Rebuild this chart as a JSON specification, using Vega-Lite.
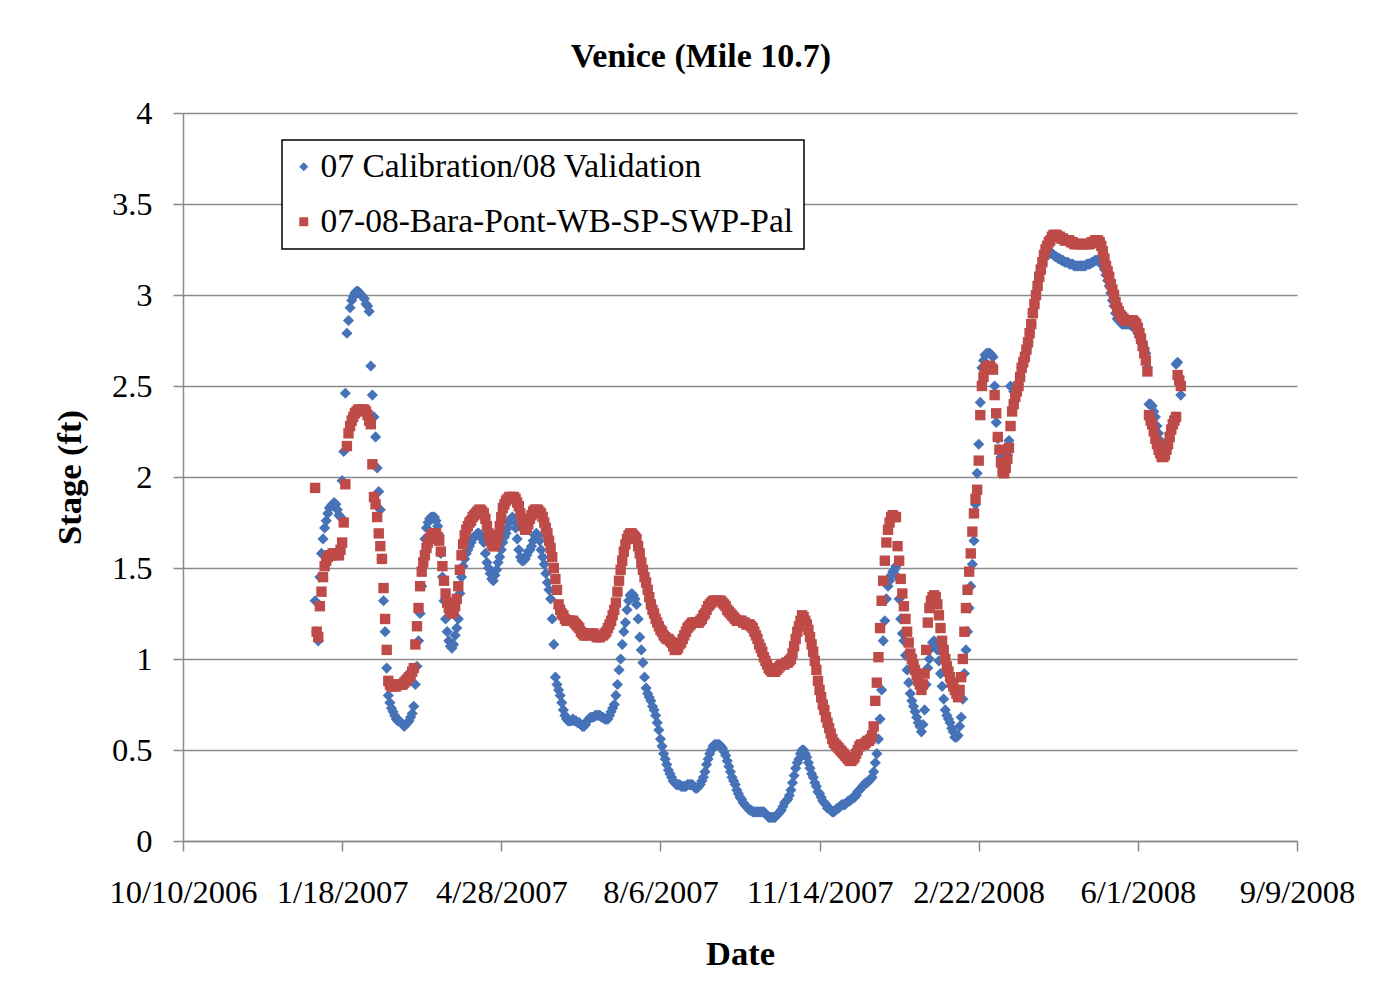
{
  "$schema": "https://vega.github.io/schema/vega-lite/v6.json",
  "width": 1114,
  "height": 728,
  "autosize": {"type": "none"},
  "padding": {"left": 183, "top": 113, "right": 89, "bottom": 163},
  "background": "white",
  "title": {
    "text": "Venice (Mile 10.7)",
    "font": "Liberation Serif",
    "fontSize": 34,
    "fontWeight": "bold",
    "color": "#000000",
    "anchor": "middle",
    "frame": "group",
    "dx": -39,
    "offset": 23
  },
  "data": {
    "values": [
      {"d":"2007-01-01","a":1.32,"b":1.94},
      {"d":"2007-01-02","a":1.15,"b":1.15},
      {"d":"2007-01-03","a":1.10,"b":1.12},
      {"d":"2007-01-04","a":1.45,"b":1.29},
      {"d":"2007-01-05","a":1.58,"b":1.37},
      {"d":"2007-01-06","a":1.66,"b":1.45},
      {"d":"2007-01-07","a":1.72,"b":1.51},
      {"d":"2007-01-08","a":1.76,"b":1.54},
      {"d":"2007-01-09","a":1.80,"b":1.56},
      {"d":"2007-01-10","a":1.83,"b":1.57},
      {"d":"2007-01-11","a":1.84,"b":1.57},
      {"d":"2007-01-12","a":1.85,"b":1.58},
      {"d":"2007-01-13","a":1.86,"b":1.58},
      {"d":"2007-01-14","a":1.85,"b":1.58},
      {"d":"2007-01-15","a":1.82,"b":1.57},
      {"d":"2007-01-16","a":1.79,"b":1.57},
      {"d":"2007-01-17","a":1.78,"b":1.60},
      {"d":"2007-01-18","a":1.98,"b":1.64},
      {"d":"2007-01-19","a":2.14,"b":1.75},
      {"d":"2007-01-20","a":2.46,"b":1.96},
      {"d":"2007-01-21","a":2.79,"b":2.17},
      {"d":"2007-01-22","a":2.86,"b":2.24},
      {"d":"2007-01-23","a":2.93,"b":2.28},
      {"d":"2007-01-24","a":2.97,"b":2.31},
      {"d":"2007-01-25","a":2.99,"b":2.33},
      {"d":"2007-01-26","a":3.01,"b":2.35},
      {"d":"2007-01-27","a":3.02,"b":2.36},
      {"d":"2007-01-28","a":3.02,"b":2.37},
      {"d":"2007-01-29","a":3.01,"b":2.37},
      {"d":"2007-01-30","a":3.00,"b":2.37},
      {"d":"2007-01-31","a":2.99,"b":2.37},
      {"d":"2007-02-01","a":2.98,"b":2.37},
      {"d":"2007-02-02","a":2.95,"b":2.36},
      {"d":"2007-02-03","a":2.94,"b":2.34},
      {"d":"2007-02-04","a":2.91,"b":2.31},
      {"d":"2007-02-05","a":2.61,"b":2.29},
      {"d":"2007-02-06","a":2.45,"b":2.07},
      {"d":"2007-02-07","a":2.33,"b":1.89},
      {"d":"2007-02-08","a":2.22,"b":1.85},
      {"d":"2007-02-09","a":2.05,"b":1.78},
      {"d":"2007-02-10","a":1.92,"b":1.69},
      {"d":"2007-02-11","a":1.82,"b":1.62},
      {"d":"2007-02-12","a":1.55,"b":1.55},
      {"d":"2007-02-13","a":1.32,"b":1.39},
      {"d":"2007-02-14","a":1.15,"b":1.22},
      {"d":"2007-02-15","a":0.95,"b":1.05},
      {"d":"2007-02-16","a":0.80,"b":0.88},
      {"d":"2007-02-17","a":0.76,"b":0.86},
      {"d":"2007-02-18","a":0.73,"b":0.85},
      {"d":"2007-02-19","a":0.71,"b":0.85},
      {"d":"2007-02-20","a":0.69,"b":0.85},
      {"d":"2007-02-21","a":0.67,"b":0.85},
      {"d":"2007-02-22","a":0.66,"b":0.86},
      {"d":"2007-02-23","a":0.66,"b":0.86},
      {"d":"2007-02-24","a":0.65,"b":0.86},
      {"d":"2007-02-25","a":0.64,"b":0.86},
      {"d":"2007-02-26","a":0.63,"b":0.87},
      {"d":"2007-02-27","a":0.64,"b":0.88},
      {"d":"2007-02-28","a":0.65,"b":0.89},
      {"d":"2007-03-01","a":0.66,"b":0.90},
      {"d":"2007-03-02","a":0.68,"b":0.91},
      {"d":"2007-03-03","a":0.70,"b":0.93},
      {"d":"2007-03-04","a":0.74,"b":0.95},
      {"d":"2007-03-05","a":0.86,"b":1.08},
      {"d":"2007-03-06","a":0.96,"b":1.18},
      {"d":"2007-03-07","a":1.10,"b":1.28},
      {"d":"2007-03-08","a":1.25,"b":1.40},
      {"d":"2007-03-09","a":1.40,"b":1.48},
      {"d":"2007-03-10","a":1.55,"b":1.53},
      {"d":"2007-03-11","a":1.66,"b":1.57},
      {"d":"2007-03-12","a":1.72,"b":1.61},
      {"d":"2007-03-13","a":1.75,"b":1.64},
      {"d":"2007-03-14","a":1.77,"b":1.66},
      {"d":"2007-03-15","a":1.78,"b":1.68},
      {"d":"2007-03-16","a":1.78,"b":1.69},
      {"d":"2007-03-17","a":1.78,"b":1.69},
      {"d":"2007-03-18","a":1.76,"b":1.69},
      {"d":"2007-03-19","a":1.73,"b":1.67},
      {"d":"2007-03-20","a":1.68,"b":1.65},
      {"d":"2007-03-21","a":1.58,"b":1.59},
      {"d":"2007-03-22","a":1.45,"b":1.51},
      {"d":"2007-03-23","a":1.32,"b":1.43},
      {"d":"2007-03-24","a":1.22,"b":1.36},
      {"d":"2007-03-25","a":1.15,"b":1.31},
      {"d":"2007-03-26","a":1.10,"b":1.28},
      {"d":"2007-03-27","a":1.07,"b":1.26},
      {"d":"2007-03-28","a":1.06,"b":1.25},
      {"d":"2007-03-29","a":1.08,"b":1.26},
      {"d":"2007-03-30","a":1.13,"b":1.29},
      {"d":"2007-03-31","a":1.17,"b":1.33},
      {"d":"2007-04-01","a":1.22,"b":1.40},
      {"d":"2007-04-02","a":1.36,"b":1.49},
      {"d":"2007-04-03","a":1.45,"b":1.57},
      {"d":"2007-04-04","a":1.51,"b":1.63},
      {"d":"2007-04-05","a":1.55,"b":1.68},
      {"d":"2007-04-06","a":1.58,"b":1.71},
      {"d":"2007-04-07","a":1.60,"b":1.73},
      {"d":"2007-04-08","a":1.62,"b":1.75},
      {"d":"2007-04-09","a":1.64,"b":1.76},
      {"d":"2007-04-10","a":1.66,"b":1.78},
      {"d":"2007-04-11","a":1.67,"b":1.79},
      {"d":"2007-04-12","a":1.68,"b":1.80},
      {"d":"2007-04-13","a":1.69,"b":1.81},
      {"d":"2007-04-14","a":1.69,"b":1.82},
      {"d":"2007-04-15","a":1.68,"b":1.82},
      {"d":"2007-04-16","a":1.66,"b":1.81},
      {"d":"2007-04-17","a":1.64,"b":1.80},
      {"d":"2007-04-18","a":1.58,"b":1.77},
      {"d":"2007-04-19","a":1.53,"b":1.73},
      {"d":"2007-04-20","a":1.50,"b":1.69},
      {"d":"2007-04-21","a":1.47,"b":1.65},
      {"d":"2007-04-22","a":1.44,"b":1.63},
      {"d":"2007-04-23","a":1.43,"b":1.62},
      {"d":"2007-04-24","a":1.46,"b":1.62},
      {"d":"2007-04-25","a":1.49,"b":1.64},
      {"d":"2007-04-26","a":1.53,"b":1.68},
      {"d":"2007-04-27","a":1.56,"b":1.73},
      {"d":"2007-04-28","a":1.60,"b":1.78},
      {"d":"2007-04-29","a":1.64,"b":1.83},
      {"d":"2007-04-30","a":1.67,"b":1.85},
      {"d":"2007-05-01","a":1.69,"b":1.87},
      {"d":"2007-05-02","a":1.72,"b":1.88},
      {"d":"2007-05-03","a":1.75,"b":1.89},
      {"d":"2007-05-04","a":1.77,"b":1.89},
      {"d":"2007-05-05","a":1.78,"b":1.89},
      {"d":"2007-05-06","a":1.76,"b":1.89},
      {"d":"2007-05-07","a":1.72,"b":1.88},
      {"d":"2007-05-08","a":1.66,"b":1.86},
      {"d":"2007-05-09","a":1.60,"b":1.84},
      {"d":"2007-05-10","a":1.56,"b":1.80},
      {"d":"2007-05-11","a":1.54,"b":1.76},
      {"d":"2007-05-12","a":1.54,"b":1.73},
      {"d":"2007-05-13","a":1.55,"b":1.71},
      {"d":"2007-05-14","a":1.57,"b":1.72},
      {"d":"2007-05-15","a":1.59,"b":1.74},
      {"d":"2007-05-16","a":1.60,"b":1.77},
      {"d":"2007-05-17","a":1.62,"b":1.79},
      {"d":"2007-05-18","a":1.65,"b":1.81},
      {"d":"2007-05-19","a":1.68,"b":1.82},
      {"d":"2007-05-20","a":1.69,"b":1.82},
      {"d":"2007-05-21","a":1.68,"b":1.82},
      {"d":"2007-05-22","a":1.65,"b":1.81},
      {"d":"2007-05-23","a":1.60,"b":1.80},
      {"d":"2007-05-24","a":1.56,"b":1.78},
      {"d":"2007-05-25","a":1.52,"b":1.75},
      {"d":"2007-05-26","a":1.47,"b":1.72},
      {"d":"2007-05-27","a":1.42,"b":1.69},
      {"d":"2007-05-28","a":1.38,"b":1.65},
      {"d":"2007-05-29","a":1.33,"b":1.61},
      {"d":"2007-05-30","a":1.22,"b":1.56},
      {"d":"2007-05-31","a":1.08,"b":1.50},
      {"d":"2007-06-01","a":0.90,"b":1.44},
      {"d":"2007-06-02","a":0.86,"b":1.38},
      {"d":"2007-06-03","a":0.83,"b":1.30},
      {"d":"2007-06-04","a":0.80,"b":1.27},
      {"d":"2007-06-05","a":0.76,"b":1.25},
      {"d":"2007-06-06","a":0.72,"b":1.24},
      {"d":"2007-06-07","a":0.69,"b":1.22},
      {"d":"2007-06-08","a":0.67,"b":1.21},
      {"d":"2007-06-09","a":0.66,"b":1.21},
      {"d":"2007-06-10","a":0.66,"b":1.21},
      {"d":"2007-06-11","a":0.66,"b":1.21},
      {"d":"2007-06-12","a":0.67,"b":1.21},
      {"d":"2007-06-13","a":0.66,"b":1.20},
      {"d":"2007-06-14","a":0.66,"b":1.19},
      {"d":"2007-06-15","a":0.65,"b":1.18},
      {"d":"2007-06-16","a":0.65,"b":1.17},
      {"d":"2007-06-17","a":0.64,"b":1.15},
      {"d":"2007-06-18","a":0.63,"b":1.14},
      {"d":"2007-06-19","a":0.63,"b":1.13},
      {"d":"2007-06-20","a":0.64,"b":1.13},
      {"d":"2007-06-21","a":0.66,"b":1.13},
      {"d":"2007-06-22","a":0.67,"b":1.14},
      {"d":"2007-06-23","a":0.68,"b":1.14},
      {"d":"2007-06-24","a":0.68,"b":1.14},
      {"d":"2007-06-25","a":0.68,"b":1.14},
      {"d":"2007-06-26","a":0.69,"b":1.13},
      {"d":"2007-06-27","a":0.69,"b":1.12},
      {"d":"2007-06-28","a":0.69,"b":1.12},
      {"d":"2007-06-29","a":0.69,"b":1.12},
      {"d":"2007-06-30","a":0.68,"b":1.13},
      {"d":"2007-07-01","a":0.68,"b":1.13},
      {"d":"2007-07-02","a":0.67,"b":1.14},
      {"d":"2007-07-03","a":0.67,"b":1.15},
      {"d":"2007-07-04","a":0.67,"b":1.17},
      {"d":"2007-07-05","a":0.69,"b":1.19},
      {"d":"2007-07-06","a":0.71,"b":1.21},
      {"d":"2007-07-07","a":0.73,"b":1.24},
      {"d":"2007-07-08","a":0.75,"b":1.27},
      {"d":"2007-07-09","a":0.80,"b":1.31},
      {"d":"2007-07-10","a":0.86,"b":1.37},
      {"d":"2007-07-11","a":0.94,"b":1.43},
      {"d":"2007-07-12","a":1.00,"b":1.49},
      {"d":"2007-07-13","a":1.08,"b":1.54},
      {"d":"2007-07-14","a":1.15,"b":1.59},
      {"d":"2007-07-15","a":1.20,"b":1.63},
      {"d":"2007-07-16","a":1.27,"b":1.66},
      {"d":"2007-07-17","a":1.32,"b":1.68},
      {"d":"2007-07-18","a":1.35,"b":1.69},
      {"d":"2007-07-19","a":1.36,"b":1.69},
      {"d":"2007-07-20","a":1.35,"b":1.68},
      {"d":"2007-07-21","a":1.33,"b":1.67},
      {"d":"2007-07-22","a":1.30,"b":1.66},
      {"d":"2007-07-23","a":1.22,"b":1.62},
      {"d":"2007-07-24","a":1.12,"b":1.58},
      {"d":"2007-07-25","a":1.05,"b":1.53},
      {"d":"2007-07-26","a":0.98,"b":1.49},
      {"d":"2007-07-27","a":0.90,"b":1.45},
      {"d":"2007-07-28","a":0.84,"b":1.42},
      {"d":"2007-07-29","a":0.81,"b":1.38},
      {"d":"2007-07-30","a":0.79,"b":1.34},
      {"d":"2007-07-31","a":0.77,"b":1.30},
      {"d":"2007-08-01","a":0.74,"b":1.27},
      {"d":"2007-08-02","a":0.72,"b":1.25},
      {"d":"2007-08-03","a":0.69,"b":1.22},
      {"d":"2007-08-04","a":0.65,"b":1.20},
      {"d":"2007-08-05","a":0.61,"b":1.18},
      {"d":"2007-08-06","a":0.56,"b":1.16},
      {"d":"2007-08-07","a":0.52,"b":1.15},
      {"d":"2007-08-08","a":0.48,"b":1.13},
      {"d":"2007-08-09","a":0.45,"b":1.12},
      {"d":"2007-08-10","a":0.42,"b":1.11},
      {"d":"2007-08-11","a":0.39,"b":1.11},
      {"d":"2007-08-12","a":0.37,"b":1.10},
      {"d":"2007-08-13","a":0.35,"b":1.09},
      {"d":"2007-08-14","a":0.33,"b":1.07},
      {"d":"2007-08-15","a":0.32,"b":1.05},
      {"d":"2007-08-16","a":0.31,"b":1.05},
      {"d":"2007-08-17","a":0.31,"b":1.06},
      {"d":"2007-08-18","a":0.31,"b":1.08},
      {"d":"2007-08-19","a":0.30,"b":1.09},
      {"d":"2007-08-20","a":0.30,"b":1.11},
      {"d":"2007-08-21","a":0.30,"b":1.13},
      {"d":"2007-08-22","a":0.30,"b":1.15},
      {"d":"2007-08-23","a":0.31,"b":1.17},
      {"d":"2007-08-24","a":0.31,"b":1.18},
      {"d":"2007-08-25","a":0.31,"b":1.19},
      {"d":"2007-08-26","a":0.31,"b":1.20},
      {"d":"2007-08-27","a":0.30,"b":1.20},
      {"d":"2007-08-28","a":0.29,"b":1.20},
      {"d":"2007-08-29","a":0.29,"b":1.20},
      {"d":"2007-08-30","a":0.30,"b":1.20},
      {"d":"2007-08-31","a":0.31,"b":1.21},
      {"d":"2007-09-01","a":0.33,"b":1.22},
      {"d":"2007-09-02","a":0.35,"b":1.24},
      {"d":"2007-09-03","a":0.38,"b":1.25},
      {"d":"2007-09-04","a":0.42,"b":1.27},
      {"d":"2007-09-05","a":0.45,"b":1.29},
      {"d":"2007-09-06","a":0.48,"b":1.30},
      {"d":"2007-09-07","a":0.50,"b":1.31},
      {"d":"2007-09-08","a":0.52,"b":1.32},
      {"d":"2007-09-09","a":0.53,"b":1.32},
      {"d":"2007-09-10","a":0.53,"b":1.32},
      {"d":"2007-09-11","a":0.53,"b":1.32},
      {"d":"2007-09-12","a":0.53,"b":1.32},
      {"d":"2007-09-13","a":0.52,"b":1.32},
      {"d":"2007-09-14","a":0.51,"b":1.31},
      {"d":"2007-09-15","a":0.49,"b":1.30},
      {"d":"2007-09-16","a":0.47,"b":1.29},
      {"d":"2007-09-17","a":0.44,"b":1.27},
      {"d":"2007-09-18","a":0.41,"b":1.26},
      {"d":"2007-09-19","a":0.38,"b":1.25},
      {"d":"2007-09-20","a":0.35,"b":1.24},
      {"d":"2007-09-21","a":0.33,"b":1.23},
      {"d":"2007-09-22","a":0.31,"b":1.22},
      {"d":"2007-09-23","a":0.28,"b":1.21},
      {"d":"2007-09-24","a":0.26,"b":1.21},
      {"d":"2007-09-25","a":0.24,"b":1.21},
      {"d":"2007-09-26","a":0.23,"b":1.21},
      {"d":"2007-09-27","a":0.21,"b":1.20},
      {"d":"2007-09-28","a":0.20,"b":1.20},
      {"d":"2007-09-29","a":0.19,"b":1.19},
      {"d":"2007-09-30","a":0.18,"b":1.19},
      {"d":"2007-10-01","a":0.17,"b":1.19},
      {"d":"2007-10-02","a":0.17,"b":1.18},
      {"d":"2007-10-03","a":0.16,"b":1.17},
      {"d":"2007-10-04","a":0.16,"b":1.15},
      {"d":"2007-10-05","a":0.16,"b":1.13},
      {"d":"2007-10-06","a":0.16,"b":1.11},
      {"d":"2007-10-07","a":0.16,"b":1.08},
      {"d":"2007-10-08","a":0.16,"b":1.06},
      {"d":"2007-10-09","a":0.16,"b":1.04},
      {"d":"2007-10-10","a":0.16,"b":1.01},
      {"d":"2007-10-11","a":0.15,"b":0.99},
      {"d":"2007-10-12","a":0.14,"b":0.97},
      {"d":"2007-10-13","a":0.13,"b":0.95},
      {"d":"2007-10-14","a":0.13,"b":0.94},
      {"d":"2007-10-15","a":0.13,"b":0.93},
      {"d":"2007-10-16","a":0.13,"b":0.93},
      {"d":"2007-10-17","a":0.13,"b":0.93},
      {"d":"2007-10-18","a":0.14,"b":0.94},
      {"d":"2007-10-19","a":0.15,"b":0.95},
      {"d":"2007-10-20","a":0.16,"b":0.96},
      {"d":"2007-10-21","a":0.17,"b":0.97},
      {"d":"2007-10-22","a":0.19,"b":0.97},
      {"d":"2007-10-23","a":0.21,"b":0.97},
      {"d":"2007-10-24","a":0.22,"b":0.98},
      {"d":"2007-10-25","a":0.23,"b":0.98},
      {"d":"2007-10-26","a":0.25,"b":0.99},
      {"d":"2007-10-27","a":0.28,"b":1.00},
      {"d":"2007-10-28","a":0.32,"b":1.03},
      {"d":"2007-10-29","a":0.36,"b":1.07},
      {"d":"2007-10-30","a":0.40,"b":1.11},
      {"d":"2007-10-31","a":0.43,"b":1.15},
      {"d":"2007-11-01","a":0.45,"b":1.18},
      {"d":"2007-11-02","a":0.48,"b":1.21},
      {"d":"2007-11-03","a":0.50,"b":1.24},
      {"d":"2007-11-04","a":0.50,"b":1.23},
      {"d":"2007-11-05","a":0.48,"b":1.21},
      {"d":"2007-11-06","a":0.46,"b":1.19},
      {"d":"2007-11-07","a":0.43,"b":1.16},
      {"d":"2007-11-08","a":0.40,"b":1.12},
      {"d":"2007-11-09","a":0.37,"b":1.08},
      {"d":"2007-11-10","a":0.35,"b":1.04},
      {"d":"2007-11-11","a":0.32,"b":0.99},
      {"d":"2007-11-12","a":0.30,"b":0.94},
      {"d":"2007-11-13","a":0.27,"b":0.88},
      {"d":"2007-11-14","a":0.26,"b":0.83},
      {"d":"2007-11-15","a":0.24,"b":0.79},
      {"d":"2007-11-16","a":0.22,"b":0.75},
      {"d":"2007-11-17","a":0.21,"b":0.72},
      {"d":"2007-11-18","a":0.20,"b":0.68},
      {"d":"2007-11-19","a":0.18,"b":0.65},
      {"d":"2007-11-20","a":0.18,"b":0.62},
      {"d":"2007-11-21","a":0.17,"b":0.59},
      {"d":"2007-11-22","a":0.16,"b":0.56},
      {"d":"2007-11-23","a":0.16,"b":0.54},
      {"d":"2007-11-24","a":0.17,"b":0.53},
      {"d":"2007-11-25","a":0.18,"b":0.52},
      {"d":"2007-11-26","a":0.18,"b":0.51},
      {"d":"2007-11-27","a":0.19,"b":0.50},
      {"d":"2007-11-28","a":0.20,"b":0.49},
      {"d":"2007-11-29","a":0.20,"b":0.48},
      {"d":"2007-11-30","a":0.20,"b":0.47},
      {"d":"2007-12-01","a":0.21,"b":0.46},
      {"d":"2007-12-02","a":0.22,"b":0.45},
      {"d":"2007-12-03","a":0.22,"b":0.44},
      {"d":"2007-12-04","a":0.23,"b":0.44},
      {"d":"2007-12-05","a":0.24,"b":0.45},
      {"d":"2007-12-06","a":0.24,"b":0.46},
      {"d":"2007-12-07","a":0.25,"b":0.48},
      {"d":"2007-12-08","a":0.27,"b":0.50},
      {"d":"2007-12-09","a":0.28,"b":0.52},
      {"d":"2007-12-10","a":0.29,"b":0.53},
      {"d":"2007-12-11","a":0.30,"b":0.53},
      {"d":"2007-12-12","a":0.31,"b":0.53},
      {"d":"2007-12-13","a":0.32,"b":0.54},
      {"d":"2007-12-14","a":0.32,"b":0.55},
      {"d":"2007-12-15","a":0.33,"b":0.55},
      {"d":"2007-12-16","a":0.34,"b":0.56},
      {"d":"2007-12-17","a":0.35,"b":0.58},
      {"d":"2007-12-18","a":0.38,"b":0.63},
      {"d":"2007-12-19","a":0.43,"b":0.77},
      {"d":"2007-12-20","a":0.48,"b":0.87},
      {"d":"2007-12-21","a":0.56,"b":1.01},
      {"d":"2007-12-22","a":0.67,"b":1.17},
      {"d":"2007-12-23","a":0.83,"b":1.32},
      {"d":"2007-12-24","a":1.10,"b":1.43},
      {"d":"2007-12-25","a":1.21,"b":1.54},
      {"d":"2007-12-26","a":1.33,"b":1.64},
      {"d":"2007-12-27","a":1.40,"b":1.71},
      {"d":"2007-12-28","a":1.43,"b":1.75},
      {"d":"2007-12-29","a":1.46,"b":1.78},
      {"d":"2007-12-30","a":1.48,"b":1.79},
      {"d":"2007-12-31","a":1.49,"b":1.78},
      {"d":"2008-01-01","a":1.51,"b":1.78},
      {"d":"2008-01-02","a":1.45,"b":1.62},
      {"d":"2008-01-03","a":1.33,"b":1.54},
      {"d":"2008-01-04","a":1.22,"b":1.44},
      {"d":"2008-01-05","a":1.14,"b":1.36},
      {"d":"2008-01-06","a":1.10,"b":1.29},
      {"d":"2008-01-07","a":1.02,"b":1.22},
      {"d":"2008-01-08","a":0.94,"b":1.15},
      {"d":"2008-01-09","a":0.87,"b":1.09},
      {"d":"2008-01-10","a":0.81,"b":1.03},
      {"d":"2008-01-11","a":0.77,"b":1.00},
      {"d":"2008-01-12","a":0.74,"b":0.97},
      {"d":"2008-01-13","a":0.71,"b":0.94},
      {"d":"2008-01-14","a":0.68,"b":0.91},
      {"d":"2008-01-15","a":0.65,"b":0.88},
      {"d":"2008-01-16","a":0.63,"b":0.86},
      {"d":"2008-01-17","a":0.60,"b":0.83},
      {"d":"2008-01-18","a":0.64,"b":0.86},
      {"d":"2008-01-19","a":0.72,"b":0.92},
      {"d":"2008-01-20","a":0.86,"b":1.05},
      {"d":"2008-01-21","a":0.95,"b":1.20},
      {"d":"2008-01-22","a":1.00,"b":1.28},
      {"d":"2008-01-23","a":1.06,"b":1.32},
      {"d":"2008-01-24","a":1.09,"b":1.34},
      {"d":"2008-01-25","a":1.10,"b":1.35},
      {"d":"2008-01-26","a":1.09,"b":1.34},
      {"d":"2008-01-27","a":1.05,"b":1.30},
      {"d":"2008-01-28","a":0.99,"b":1.24},
      {"d":"2008-01-29","a":0.92,"b":1.17},
      {"d":"2008-01-30","a":0.85,"b":1.10},
      {"d":"2008-01-31","a":0.78,"b":1.05},
      {"d":"2008-02-01","a":0.72,"b":1.00},
      {"d":"2008-02-02","a":0.69,"b":0.96},
      {"d":"2008-02-03","a":0.67,"b":0.93},
      {"d":"2008-02-04","a":0.65,"b":0.90},
      {"d":"2008-02-05","a":0.62,"b":0.87},
      {"d":"2008-02-06","a":0.60,"b":0.85},
      {"d":"2008-02-07","a":0.57,"b":0.83},
      {"d":"2008-02-08","a":0.57,"b":0.81},
      {"d":"2008-02-09","a":0.58,"b":0.79},
      {"d":"2008-02-10","a":0.63,"b":0.83},
      {"d":"2008-02-11","a":0.68,"b":0.90},
      {"d":"2008-02-12","a":0.78,"b":1.00},
      {"d":"2008-02-13","a":0.92,"b":1.15},
      {"d":"2008-02-14","a":1.05,"b":1.28},
      {"d":"2008-02-15","a":1.15,"b":1.38},
      {"d":"2008-02-16","a":1.28,"b":1.48},
      {"d":"2008-02-17","a":1.40,"b":1.58},
      {"d":"2008-02-18","a":1.52,"b":1.70},
      {"d":"2008-02-19","a":1.65,"b":1.80},
      {"d":"2008-02-20","a":1.85,"b":1.88},
      {"d":"2008-02-21","a":2.02,"b":1.93},
      {"d":"2008-02-22","a":2.18,"b":2.09},
      {"d":"2008-02-23","a":2.41,"b":2.34},
      {"d":"2008-02-24","a":2.60,"b":2.50},
      {"d":"2008-02-25","a":2.64,"b":2.55},
      {"d":"2008-02-26","a":2.67,"b":2.59},
      {"d":"2008-02-27","a":2.68,"b":2.61},
      {"d":"2008-02-28","a":2.68,"b":2.61},
      {"d":"2008-02-29","a":2.68,"b":2.61},
      {"d":"2008-03-01","a":2.67,"b":2.60},
      {"d":"2008-03-02","a":2.66,"b":2.59},
      {"d":"2008-03-03","a":2.50,"b":2.45},
      {"d":"2008-03-04","a":2.30,"b":2.35},
      {"d":"2008-03-05","a":2.21,"b":2.22},
      {"d":"2008-03-06","a":2.15,"b":2.15},
      {"d":"2008-03-07","a":2.11,"b":2.08},
      {"d":"2008-03-08","a":2.08,"b":2.03},
      {"d":"2008-03-09","a":2.06,"b":2.02},
      {"d":"2008-03-10","a":2.07,"b":2.05},
      {"d":"2008-03-11","a":2.12,"b":2.10},
      {"d":"2008-03-12","a":2.20,"b":2.16},
      {"d":"2008-03-13","a":2.50,"b":2.28},
      {"d":"2008-03-14","a":2.49,"b":2.36},
      {"d":"2008-03-15","a":2.47,"b":2.40},
      {"d":"2008-03-16","a":2.45,"b":2.44},
      {"d":"2008-03-17","a":2.48,"b":2.47},
      {"d":"2008-03-18","a":2.51,"b":2.50},
      {"d":"2008-03-19","a":2.55,"b":2.55},
      {"d":"2008-03-20","a":2.60,"b":2.60},
      {"d":"2008-03-21","a":2.63,"b":2.63},
      {"d":"2008-03-22","a":2.66,"b":2.66},
      {"d":"2008-03-23","a":2.70,"b":2.70},
      {"d":"2008-03-24","a":2.74,"b":2.74},
      {"d":"2008-03-25","a":2.79,"b":2.79},
      {"d":"2008-03-26","a":2.84,"b":2.84},
      {"d":"2008-03-27","a":2.90,"b":2.90},
      {"d":"2008-03-28","a":2.95,"b":2.95},
      {"d":"2008-03-29","a":3.00,"b":3.00},
      {"d":"2008-03-30","a":3.04,"b":3.05},
      {"d":"2008-03-31","a":3.09,"b":3.10},
      {"d":"2008-04-01","a":3.13,"b":3.14},
      {"d":"2008-04-02","a":3.17,"b":3.18},
      {"d":"2008-04-03","a":3.20,"b":3.22},
      {"d":"2008-04-04","a":3.21,"b":3.25},
      {"d":"2008-04-05","a":3.22,"b":3.27},
      {"d":"2008-04-06","a":3.23,"b":3.29},
      {"d":"2008-04-07","a":3.23,"b":3.30},
      {"d":"2008-04-08","a":3.23,"b":3.32},
      {"d":"2008-04-09","a":3.22,"b":3.33},
      {"d":"2008-04-10","a":3.21,"b":3.33},
      {"d":"2008-04-11","a":3.21,"b":3.33},
      {"d":"2008-04-12","a":3.20,"b":3.32},
      {"d":"2008-04-13","a":3.20,"b":3.32},
      {"d":"2008-04-14","a":3.19,"b":3.31},
      {"d":"2008-04-15","a":3.19,"b":3.31},
      {"d":"2008-04-16","a":3.18,"b":3.30},
      {"d":"2008-04-17","a":3.18,"b":3.30},
      {"d":"2008-04-18","a":3.18,"b":3.30},
      {"d":"2008-04-19","a":3.17,"b":3.30},
      {"d":"2008-04-20","a":3.17,"b":3.29},
      {"d":"2008-04-21","a":3.17,"b":3.29},
      {"d":"2008-04-22","a":3.16,"b":3.28},
      {"d":"2008-04-23","a":3.16,"b":3.28},
      {"d":"2008-04-24","a":3.16,"b":3.28},
      {"d":"2008-04-25","a":3.16,"b":3.28},
      {"d":"2008-04-26","a":3.16,"b":3.28},
      {"d":"2008-04-27","a":3.16,"b":3.28},
      {"d":"2008-04-28","a":3.16,"b":3.28},
      {"d":"2008-04-29","a":3.16,"b":3.28},
      {"d":"2008-04-30","a":3.17,"b":3.28},
      {"d":"2008-05-01","a":3.17,"b":3.28},
      {"d":"2008-05-02","a":3.17,"b":3.28},
      {"d":"2008-05-03","a":3.18,"b":3.29},
      {"d":"2008-05-04","a":3.18,"b":3.29},
      {"d":"2008-05-05","a":3.19,"b":3.30},
      {"d":"2008-05-06","a":3.19,"b":3.30},
      {"d":"2008-05-07","a":3.19,"b":3.30},
      {"d":"2008-05-08","a":3.19,"b":3.29},
      {"d":"2008-05-09","a":3.18,"b":3.27},
      {"d":"2008-05-10","a":3.16,"b":3.24},
      {"d":"2008-05-11","a":3.14,"b":3.20},
      {"d":"2008-05-12","a":3.11,"b":3.16},
      {"d":"2008-05-13","a":3.08,"b":3.13},
      {"d":"2008-05-14","a":3.05,"b":3.10},
      {"d":"2008-05-15","a":3.01,"b":3.06},
      {"d":"2008-05-16","a":2.97,"b":3.03},
      {"d":"2008-05-17","a":2.94,"b":3.00},
      {"d":"2008-05-18","a":2.90,"b":2.96},
      {"d":"2008-05-19","a":2.87,"b":2.93},
      {"d":"2008-05-20","a":2.86,"b":2.91},
      {"d":"2008-05-21","a":2.85,"b":2.89},
      {"d":"2008-05-22","a":2.84,"b":2.88},
      {"d":"2008-05-23","a":2.84,"b":2.87},
      {"d":"2008-05-24","a":2.84,"b":2.86},
      {"d":"2008-05-25","a":2.84,"b":2.86},
      {"d":"2008-05-26","a":2.84,"b":2.86},
      {"d":"2008-05-27","a":2.84,"b":2.86},
      {"d":"2008-05-28","a":2.83,"b":2.86},
      {"d":"2008-05-29","a":2.83,"b":2.86},
      {"d":"2008-05-30","a":2.82,"b":2.85},
      {"d":"2008-05-31","a":2.81,"b":2.84},
      {"d":"2008-06-01","a":2.79,"b":2.82},
      {"d":"2008-06-02","a":2.77,"b":2.79},
      {"d":"2008-06-03","a":2.75,"b":2.76},
      {"d":"2008-06-04","a":2.73,"b":2.72},
      {"d":"2008-06-05","a":2.71,"b":2.68},
      {"d":"2008-06-06","a":2.68,"b":2.64},
      {"d":"2008-06-07","a":2.60,"b":2.58},
      {"d":"2008-06-08","a":2.40,"b":2.34},
      {"d":"2008-06-09","a":2.40,"b":2.31},
      {"d":"2008-06-10","a":2.39,"b":2.29},
      {"d":"2008-06-11","a":2.36,"b":2.25},
      {"d":"2008-06-12","a":2.33,"b":2.21},
      {"d":"2008-06-13","a":2.28,"b":2.18},
      {"d":"2008-06-14","a":2.24,"b":2.15},
      {"d":"2008-06-15","a":2.20,"b":2.13},
      {"d":"2008-06-16","a":2.17,"b":2.11},
      {"d":"2008-06-17","a":2.16,"b":2.11},
      {"d":"2008-06-18","a":2.15,"b":2.12},
      {"d":"2008-06-19","a":2.17,"b":2.15},
      {"d":"2008-06-20","a":2.20,"b":2.18},
      {"d":"2008-06-21","a":2.24,"b":2.22},
      {"d":"2008-06-22","a":2.28,"b":2.26},
      {"d":"2008-06-23","a":2.31,"b":2.29},
      {"d":"2008-06-24","a":2.33,"b":2.31},
      {"d":"2008-06-25","a":2.62,"b":2.33},
      {"d":"2008-06-26","a":2.63,"b":2.56},
      {"d":"2008-06-27","a":2.55,"b":2.53},
      {"d":"2008-06-28","a":2.45,"b":2.50}
    ]
  },
  "encoding": {
    "x": {
      "field": "d",
      "type": "temporal",
      "title": "Date",
      "scale": {
        "type": "utc",
        "domain": [
          {"year": 2006, "month": 10, "date": 10, "utc": true},
          {"year": 2008, "month": 9, "date": 9, "utc": true}
        ],
        "nice": false
      },
      "axis": {
        "values": [
          {"year": 2006, "month": 10, "date": 10, "utc": true},
          {"year": 2007, "month": 1, "date": 18, "utc": true},
          {"year": 2007, "month": 4, "date": 28, "utc": true},
          {"year": 2007, "month": 8, "date": 6, "utc": true},
          {"year": 2007, "month": 11, "date": 14, "utc": true},
          {"year": 2008, "month": 2, "date": 22, "utc": true},
          {"year": 2008, "month": 6, "date": 1, "utc": true},
          {"year": 2008, "month": 9, "date": 9, "utc": true}
        ],
        "format": "%-m/%-d/%Y",
        "grid": false,
        "labelOverlap": false,
        "labelFlush": false,
        "labelAngle": 0,
        "labelPadding": 25,
        "labelFont": "Liberation Serif",
        "titleX": 557,
        "titleY": 113,
        "titleBaseline": "middle",
        "titleAlign": "center"
      }
    }
  },
  "layer": [
    {
      "mark": {"type": "point", "filled": true, "opacity": 1, "size": 125, "strokeWidth": 0},
      "encoding": {
        "y": {
          "field": "a",
          "type": "quantitative",
          "title": "Stage (ft)",
          "scale": {"domain": [0, 4], "nice": false},
          "axis": {
            "values": [0, 0.5, 1, 1.5, 2, 2.5, 3, 3.5, 4],
            "format": ".1~f",
            "grid": true,
            "labelFont": "Liberation Serif",
            "labelPadding": 21,
            "titleAngle": -90,
            "titleX": -113,
            "titleY": 364,
            "titleBaseline": "middle",
            "titleAlign": "center"
          }
        },
        "color": {"datum": "07 Calibration/08 Validation"},
        "shape": {"datum": "07 Calibration/08 Validation"}
      }
    },
    {
      "mark": {"type": "point", "filled": true, "opacity": 1, "size": 108, "strokeWidth": 0},
      "encoding": {
        "y": {
          "field": "b",
          "type": "quantitative",
          "title": "Stage (ft)",
          "scale": {"domain": [0, 4], "nice": false},
          "axis": {
            "values": [0, 0.5, 1, 1.5, 2, 2.5, 3, 3.5, 4],
            "format": ".1~f",
            "grid": true,
            "labelFont": "Liberation Serif",
            "labelPadding": 21,
            "titleAngle": -90,
            "titleX": -113,
            "titleY": 364,
            "titleBaseline": "middle",
            "titleAlign": "center"
          }
        },
        "color": {"datum": "07-08-Bara-Pont-WB-SP-SWP-Pal"},
        "shape": {"datum": "07-08-Bara-Pont-WB-SP-SWP-Pal"}
      }
    }
  ],
  "resolve": {"scale": {"color": "shared", "shape": "shared"}},
  "config": {
    "font": "Liberation Serif",
    "view": {"stroke": null},
    "axis": {
      "labelFont": "Liberation Serif",
      "labelFontSize": 32.5,
      "labelColor": "#000000",
      "titleFont": "Liberation Serif",
      "titleFontSize": 34.5,
      "titleFontWeight": "bold",
      "titleColor": "#000000",
      "domainColor": "#8a8a8a",
      "domainWidth": 1.5,
      "tickColor": "#8a8a8a",
      "tickWidth": 1.5,
      "tickSize": 10,
      "gridColor": "#8a8a8a",
      "gridWidth": 1.3,
      "gridOpacity": 1
    },
    "range": {
      "category": ["#4672B8", "#BE4B48"],
      "symbol": ["diamond", "square"]
    },
    "legend": {
      "orient": "none",
      "legendX": 99,
      "legendY": 27,
      "title": null,
      "strokeColor": "#000000",
      "strokeWidth": 1.5,
      "fillColor": "#ffffff",
      "padding": 10,
      "symbolOffset": -5,
      "symbolSize": 80,
      "symbolStrokeWidth": 0,
      "labelFont": "Liberation Serif",
      "labelFontSize": 33.5,
      "labelColor": "#000000",
      "labelOffset": 0,
      "rowPadding": 20,
      "labelLimit": 0
    }
  }
}
